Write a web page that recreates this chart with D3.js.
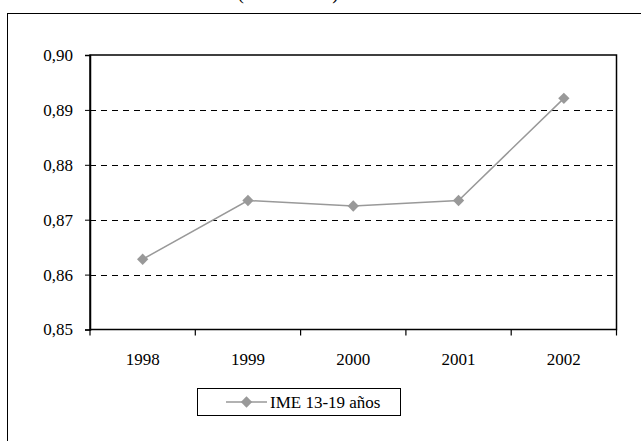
<!DOCTYPE html>
<html><head><meta charset="utf-8">
<script src="https://cdn.jsdelivr.net/npm/d3@7/dist/d3.min.js"></script>
<style>body{margin:0;background:#fff}svg{display:block}</style>
</head><body>
<svg id="c" width="641" height="441"></svg>
<script>
const categories = ["1998","1999","2000","2001","2002"];
const values = [0.8628, 0.8735, 0.8725, 0.8735, 0.8921];
const yTicks = [0.85, 0.86, 0.87, 0.88, 0.89, 0.90];
const seriesName = "IME 13-19 años";
const titleText = "(13-19 años)";
const FONT = "'Liberation Serif', 'Times New Roman', serif";

const svg = d3.select("#c");
const L = 90, R = 616.5, T = 55, B = 329.5;
const x = d3.scaleBand().domain(categories).range([L, R]);
const y = d3.scaleLinear().domain([0.85, 0.90]).range([B, T]);
const fmt = d => d3.format(".2f")(d).replace(".", ",");

// outer frame
svg.append("rect").attr("x", 7.5).attr("y", 13.5).attr("width", 700).attr("height", 500)
  .attr("fill", "none").attr("stroke", "#000").attr("stroke-width", 1);
// title (cut off at the top, as in the reference)
svg.append("text").attr("x", 288).attr("y", -1).attr("text-anchor", "middle")
  .attr("font-family", FONT).attr("font-size", 20).text(titleText);

// gridlines
svg.append("g").selectAll("line").data(yTicks.filter(d => d > 0.851 && d < 0.899)).join("line")
  .attr("x1", L).attr("x2", R).attr("y1", d => Math.round(y(d)) + 0.5).attr("y2", d => Math.round(y(d)) + 0.5)
  .attr("stroke", "#000").attr("stroke-width", 1).attr("stroke-dasharray", "6,5");

// plot border
svg.append("rect").attr("x", L).attr("y", T).attr("width", R - L).attr("height", B - T)
  .attr("fill", "none").attr("stroke", "#000").attr("stroke-width", 1.5);

// y axis
const yAxis = svg.append("g").attr("transform", `translate(${L},0)`)
  .call(d3.axisLeft(y).tickValues(yTicks).tickFormat(fmt).tickSize(5).tickPadding(12));
yAxis.attr("font-family", FONT);
yAxis.select(".domain").attr("stroke", "#000").attr("stroke-width", 1.5);
yAxis.selectAll("text").attr("font-size", 17).attr("fill", "#000").attr("font-family", FONT);

// x axis ticks at band boundaries
const bounds = categories.map(c => x(c)).concat([R]);
svg.append("g").selectAll("line").data(bounds).join("line")
  .attr("x1", d => d).attr("x2", d => d).attr("y1", B).attr("y2", B + 6)
  .attr("stroke", "#000").attr("stroke-width", 1.2);
svg.append("g").selectAll("text").data(categories).join("text")
  .attr("x", d => x(d) + x.bandwidth() / 2).attr("y", 365).attr("text-anchor", "middle")
  .attr("font-family", FONT).attr("font-size", 17).attr("fill", "#000").text(d => d);

// line
const cx = (d, i) => x(categories[i]) + x.bandwidth() / 2;
svg.append("path").datum(values)
  .attr("d", d3.line().x(cx).y(d => y(d)))
  .attr("fill", "none").attr("stroke", "#999").attr("stroke-width", 1.5);
svg.append("g").selectAll("path").data(values).join("path")
  .attr("d", d3.symbol().type(d3.symbolSquare).size(64))
  .attr("transform", (d, i) => `translate(${cx(d, i)},${y(d)}) rotate(45)`)
  .attr("fill", "#999");

// legend
const lg = svg.append("g");
lg.append("rect").attr("x", 197.5).attr("y", 388.5).attr("width", 203).attr("height", 27)
  .attr("fill", "#fff").attr("stroke", "#000").attr("stroke-width", 1);
lg.append("line").attr("x1", 226).attr("x2", 267).attr("y1", 402).attr("y2", 402)
  .attr("stroke", "#999").attr("stroke-width", 1.5);
lg.append("path").attr("d", d3.symbol().type(d3.symbolSquare).size(64))
  .attr("transform", "translate(246.5,402) rotate(45)").attr("fill", "#999");
lg.append("text").attr("x", 270).attr("y", 408).attr("font-family", FONT).attr("font-size", 17)
  .attr("fill", "#000").text(seriesName);
</script>
</body></html>
